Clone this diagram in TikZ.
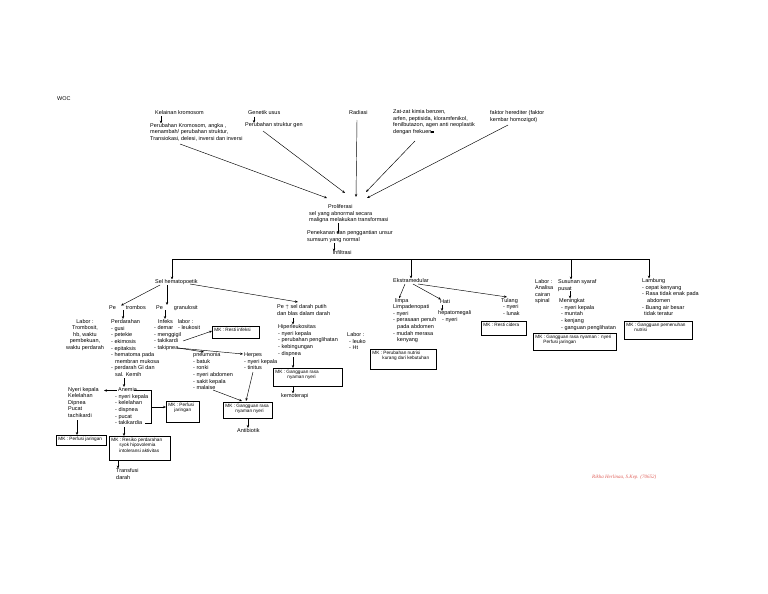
\documentclass[tikz,border=0pt]{standalone}
\usepackage{fontspec}
\setmainfont{Liberation Sans}
\newfontfamily\signfont{Liberation Serif}
\usepackage{tikz}
\usetikzlibrary{positioning,arrows.meta,calc}
\definecolor{signc}{HTML}{E0605A}
\newcommand{\woctext}{\fontsize{5.5}{6.6}\selectfont}
\newcommand{\mktext}{\fontsize{4.7}{5.4}\selectfont}
\newcommand{\mkt}[3]{\parbox[t][#2][t]{#1}{\raggedright\mktext #3}}
\tikzset{
  txt/.style={font=\woctext, inner sep=0pt, align=left, anchor=north west},
  ctxt/.style={txt, align=center, anchor=north},
  mk/.style={draw, line width=0.9pt, inner xsep=2pt, inner ysep=1.6pt, anchor=north west},
  arr/.style={-{Stealth[length=3pt, width=2.4pt]}, line width=0.45pt},
  ln/.style={line width=0.45pt},
}

\begin{document}
\begin{tikzpicture}[x=1pt, y=-1pt]
  \useasboundingbox (0,0) rectangle (768,594);
  \fill[white] (0,0) rectangle (768,594);

  % etiologi
  \node[txt] (woc) at (57,96.5) {WOC};
  \node[txt] (kel) at (155,110) {Kelainan kromosom};
  \node[txt] (perk) at (150,123) {Perubahan Kromosom, angka ,\\menambah/ perubahan struktur,\\Transiokasi, delesi, inversi dan inversi};
  \node[txt] (gen) at (248,110.5) {Genetik usus};
  \node[txt] (perg) at (245,122.5) {Perubahan struktur gen};
  \node[txt] (rad) at (349,110.5) {Radiasi};
  \node[txt] (zat) at (393,109.5) {Zat-zat kimia benzen,\\arfen, peptisida, kloramfenikol,\\fenilbutazon, agen anti neoplastik\\dengan frekuen\rule{2.4pt}{2.6pt}};
  \node[txt] (fak) at (490,110.5) {faktor herediter (faktor\\kembar homozigot)};
  \draw[arr] ($(kel.north west)+(6,6)$) -- ($(perk.north west)+(11,0.5)$);
  \draw[arr] ($(gen.north west)+(6,6)$) -- ($(perg.north west)+(9,0.5)$);

  % patofisiologi
  \node[txt] (prol) at (309,204.5) {\hspace*{19pt}Proliferasi\\sel yang abnormal secara\\maligna melakukan transformasi};
  \node[txt] (pen) at (307,230.5) {Penekanan dan penggantian unsur\\sumsum yang normal};
  \node[txt] (infl) at (332.5,250.5) {Infiltrasi};
  \draw[arr] ($(perk.north west)+(30,21)$) -- ($(prol.north west)+(18,-6.5)$);
  \draw[arr] ($(perg.north west)+(18,8.5)$) -- ($(prol.north west)+(36,-11.5)$);
  \draw[arr] ($(rad.north west)+(8,9.5)$) -- ($(prol.north west)+(47,-7.5)$);
  \draw[arr] ($(zat.north west)+(22,31.5)$) -- ($(prol.north west)+(57,-12.5)$);
  \draw[arr] ($(fak.north west)+(18,14.5)$) -- ($(prol.north west)+(58,-6.5)$);
  \draw[arr] ($(prol.north west)+(29,18.5)$) -- ($(pen.north west)+(31,3.5)$);
  \draw[arr] ($(pen.north west)+(27,12.5)$) -- ($(infl.north west)+(1.5,1)$);

  % cabang
  \node[txt] (hem) at (155,279.5) {Sel hematopoetik};
  \node[txt] (ekst) at (393,278.5) {Ekstramedular};
  \node[txt] (labsp) at (535,279) {Labor :\\Analisa\\cairan\\spinal};
  \node[txt] (sus) at (558,279.5) {Susunan syaraf\\pusat};
  \node[txt] (lam) at (642,278.5) {Lambung\\- cepat kenyang\\- Rasa tidak enak pada\\\hspace*{5pt}abdomen\\- Buang air besar\\\hspace*{2pt}tidak teratur};
  \coordinate (bhem) at (172,259);
  \coordinate (bekst) at (411,259);
  \coordinate (bsus) at (571,259);
  \coordinate (blam) at (649,259);
  \draw[ln] (bhem) -- (blam);
  \draw[arr] (bhem) -- (bhem |- hem.north);
  \draw[arr] (bekst) -- (bekst |- ekst.north);
  \draw[arr] (bsus) -- (bsus |- sus.north);
  \draw[arr] (blam) -- (blam |- lam.north);

  % sel hematopoetik
  \node[txt] (trom) at (109,305) {Pe\hspace{10pt}trombos};
  \node[txt] (gran) at (156,305) {Pe\hspace{11pt}granulosit};
  \node[txt] (wbc) at (277,304.5) {Pe $\uparrow$ sel darah putih\\dan blas dalam darah};
  \draw[arr] ($(hem.north west)+(5,5.5)$) -- ($(trom.north west)+(12,0.5)$);
  \draw[arr] ($(hem.north west)+(12,5.5)$) -- ($(gran.north west)+(11,0)$);
  \draw[arr] ($(hem.north west)+(35,4.5)$) -- ($(wbc.north west)+(21,-2.5)$);

  \node[txt] (per) at (111,319.5) {Perdarahan\\- gusi\\- petekie\\- ekimosis\\- epitaksis\\- hematoma pada\\\hspace*{4pt}membran mukosa\\- perdarah GI dan\\\hspace*{4pt}sal. Kemih};
  \node[ctxt] (labt) at (85,319) {Labor :\\Trombosit,\\hb, waktu\\pembekuan,\\waktu perdarah};
  \node[txt] (infk) at (154,319) {\hspace*{4pt}Infeks\hspace{5pt}labor :\\- demar\hspace{5pt}- leukosit\\- menggigil\\- takikardi\\- takipnea};
  \node[mk] (mkinf) at (212,326) {\mkt{43pt}{8.8pt}{MK : Resti infeksi}};
  \draw[arr] ($(trom.north west)+(14,5)$) -- ($(per.north west)+(12,-0.5)$);
  \draw[arr] ($(gran.north west)+(9,5)$) -- ($(infk.north west)+(11,0)$);
  \draw[arr] ($(infk.north west)+(29,22)$) -- ($(mkinf.north west)+(0,5)$);

  \node[txt] (pneu) at (193,352.5) {pneumonia\\- batuk\\- ronki\\- nyeri abdomen\\- sakit kepala\\- malaise};
  \node[txt] (herp) at (244,352.5) {Herpes\\- nyeri kepala\\- tinitus};
  \node[mk] (mkn1) at (223,402) {\mkt{45pt}{12.8pt}{MK : Gangguan rasa\\\hspace*{10pt}nyaman nyeri}};
  \node[txt] (antib) at (237,428) {Antibiotik};
  \draw[arr] ($(infk.north west)+(24,29)$) -- ($(pneu.north west)+(11,-0.5)$);
  \draw[arr] ($(infk.north west)+(24,29)$) -- ($(herp.north west)+(-1,1.5)$);
  \draw[arr] ($(pneu.north west)+(20,37.5)$) -- ($(mkn1.north west)+(19,-1)$);
  \draw[arr] ($(herp.north west)+(9,19.5)$) -- ($(mkn1.north west)+(23,-1)$);
  \draw[arr] (mkn1.south) -- (mkn1.south |- antib.north);

  \node[txt] (hip) at (278,324.5) {Hiperleukositas\\- nyeri kepala\\- perubahan penglihatan\\- kebingungan\\- dispnea};
  \node[mk] (mkn2) at (273,368) {\mkt{65pt}{14.8pt}{MK : Gangguan rasa\\\hspace*{12pt}nyaman nyeri}};
  \node[txt] (kemo) at (281,393.5) {kemoterapi};
  \draw[arr] ($(wbc.north west)+(16,13.5)$) -- ($(hip.north west)+(15,0)$);
  \draw[arr] ($(hip.north west)+(15,32.5)$) -- ($(mkn2.north west)+(20,0)$);
  \draw[arr] ($(mkn2.north west)+(20,18)$) -- ($(kemo.north west)+(12,0)$);

  % ekstramedular
  \node[txt] (limpa) at (393,298) {\hspace*{2pt}limpa\\Limpadenopati\\- nyeri\\- perasaan penuh\\\hspace*{4pt}pada abdomen\\- mudah merasa\\\hspace*{4pt}kenyang};
  \node[txt] (hati) at (440,299.5) {Hati};
  \node[txt] (hep) at (438,310.5) {hepatomegali\\\hspace*{4pt}- nyeri};
  \node[txt] (tul) at (501,298) {Tulang\\\hspace*{2pt}- nyeri\\\hspace*{2pt}- lunak};
  \node[mk] (mkcid) at (481,321) {\mkt{41pt}{10.8pt}{MK : Resti cidera}};
  \node[txt] (labek) at (347,332.5) {Labor :\\\hspace*{2pt}- leuko\\\hspace*{2pt}- Ht};
  \node[mk] (mknut) at (370,349) {\mkt{62pt}{16.8pt}{MK : Perubahan nutrisi\\\hspace*{10pt}kurang dari kebutuhan}};
  \draw[arr] ($(ekst.north west)+(12,5.5)$) -- ($(limpa.north west)+(6,0.5)$);
  \draw[arr] ($(ekst.north west)+(20,5.5)$) -- ($(hati.north west)+(1,0)$);
  \draw[arr] ($(ekst.north west)+(25,5.5)$) -- ($(tul.north west)+(6,-1)$);
  \draw[arr] ($(hati.north west)+(2,5.5)$) -- ($(hep.north west)+(4,0.5)$);

  % susunan syaraf pusat dan lambung
  \node[txt] (men) at (559,298.5) {Meningkat\\\hspace*{2pt}- nyeri kepala\\\hspace*{2pt}- muntah\\\hspace*{2pt}- kenjang\\\hspace*{2pt}- ganguan penglihatan};
  \node[mk] (mksus) at (533,333) {\mkt{79pt}{13.8pt}{MK : Gangguan rasa nyaman : nyeri\\\hspace*{8pt}Perfusi jaringan}};
  \node[mk] (mklam) at (624,321) {\mkt{64pt}{14.8pt}{MK : Gangguan pemenuhan\\\hspace*{8pt}nutrisi}};
  \draw[arr] ($(sus.north west)+(12,11.5)$) -- ($(men.north west)+(11,0)$);

  % anemia
  \node[txt] (anem) at (115,387.5) {\hspace*{3pt}Anemia\\- nyeri kepala\\- kelelahan\\- dispnea\\- pucat\\- takikardia};
  \node[txt] (sym) at (68,387) {Nyeri kepala\\Kelelahan\\Dipnea\\Pucat\\tachikardi};
  \node[mk] (mkp1) at (166,401) {\mkt{29pt}{17.8pt}{MK : Perfusi\\\hspace*{6pt}jaringan}};
  \node[mk] (mkp2) at (56,435) {\mkt{46pt}{6.8pt}{MK : Perfusi jaringan}};
  \node[mk] (mkres) at (109,436) {\mkt{57pt}{20.8pt}{MK : Resiko perdarahan\\\hspace*{8pt}syok hipovolemia\\\hspace*{8pt}intoleransi aktivitas}};
  \node[txt] (trans) at (116,468.5) {Transfusi\\darah};
  \draw[arr] ($(per.north west)+(13,58.5)$) -- ($(anem.north west)+(9,-0.5)$);
  \draw[arr] ($(anem.north west)+(2,3)$) -- ($(sym.north west)+(36,3.5)$);
  \draw[ln] ($(anem.north west)+(19,3)$) -| ($(anem.north west)+(36,35.5)$) -- ($(anem.north west)+(30,35.5)$);
  \draw[arr] ($(anem.north west)+(36,19.5)$) -- ($(mkp1.north west)+(0,6)$);
  \draw[arr] ($(sym.north west)+(9,33)$) -- ($(mkp2.north west)+(21,0)$);
  \draw[arr] ($(anem.north west)+(9,39.5)$) -- ($(mkres.north west)+(15,0)$);
  \draw[arr] ($(mkres.north west)+(9,24)$) -- ($(trans.north west)+(2,0)$);

  \node[inner sep=0pt, anchor=north west, font={\signfont\itshape\fontsize{5}{6}\selectfont}, text=signc] (sign) at (592,474.5) {Rikha Herlinaa, S.Kep. (70652)};
\end{tikzpicture}
\end{document}
